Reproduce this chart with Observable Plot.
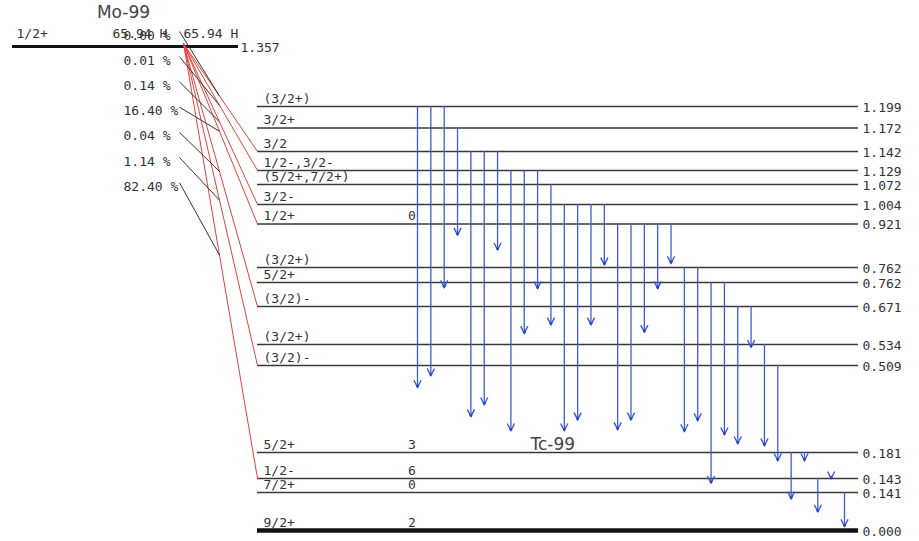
<!DOCTYPE html>
<html><head><meta charset="utf-8">
<script src="https://cdn.jsdelivr.net/npm/d3@7"></script>
<script src="https://cdn.jsdelivr.net/npm/@observablehq/plot@0.6"></script>
<style>html,body{margin:0;padding:0;background:#fff}#chart svg{display:block}</style>
</head><body><div id="chart"></div>
<script>
// ---------- DATA ----------
const parentName = "Mo-99";
const daughterName = "Tc-99";
const parentSpin = "1/2+";
const parentHalfLife = "65.94 H";
const parentE = 1.357;
const parentELabel = "1.357";

// daughter levels (MeV), top to bottom
const levelE = [1.1986, 1.1716, 1.1418, 1.1289, 1.0720, 1.0043, 0.9207, 0.7626, 0.7612, 0.6714, 0.5341, 0.5090, 0.1811, 0.1427, 0.1405, 0.0];
const levelLabel = ["1.199", "1.172", "1.142", "1.129", "1.072", "1.004", "0.921", "0.762", "0.762", "0.671", "0.534", "0.509", "0.181", "0.143", "0.141", "0.000"];
const levelSpin = ["(3/2+)", "3/2+", "3/2", "1/2-,3/2-", "(5/2+,7/2+)", "3/2-", "1/2+", "(3/2+)", "5/2+", "(3/2)-", "(3/2+)", "(3/2)-", "5/2+", "1/2-", "7/2+", "9/2+"];
const levelNote = ["", "", "", "", "", "", "0", "", "", "", "", "", "3", "6", "0", "2"];

// beta branches: fed level and intensity label
const betaLevelE = [1.1418, 1.1289, 1.0043, 0.9207, 0.6714, 0.5090, 0.1427];
const betaPct = ["0.00", "0.01", "0.14", "16.40", "0.04", "1.14", "82.40"];

// gamma arrows in drawing order: start level and (read) end of the arrow, MeV
const gammaFrom = [1.1986, 1.1986, 1.1986, 1.1716, 1.1418, 1.1418, 1.1418, 1.1289, 1.1289, 1.1289, 1.0720,
  1.0043, 1.0043, 1.0043, 1.0043, 0.9207, 0.9207, 0.9207, 0.9207, 0.9207, 0.7626, 0.7626, 0.7612, 0.7612,
  0.6714, 0.6714, 0.5341, 0.5090, 0.1811, 0.1811, 0.1427, 0.1427, 0.1405];
const gammaTo = [0.427, 0.471, 0.743, 0.881, 0.317, 0.362, 0.827, 0.264, 0.575, 0.739, 0.606,
  0.264, 0.305, 0.606, 0.773, 0.268, 0.305, 0.579, 0.739, 0.778, 0.261, 0.302, 0.1420, 0.249,
  0.215, 0.531, 0.2075, 0.1693, 0.1178, 0.1693, 0.0695, 0.1427, 0.0155];

// ---------- TABLES ----------
const levels = levelE.map((E, i) => ({E, label: levelLabel[i], spin: levelSpin[i], note: levelNote[i]}));
const betas = betaLevelE.map((E, i) => ({E, pct: betaPct[i], i}));
const gammas = gammaFrom.map((from, i) => ({i, from, to: gammaTo[i]}));

// ---------- LAYOUT (scales) ----------
// level-scheme layout: energies are spread piecewise so that close levels stay readable
const yKnots = [...levelE, parentE].sort((a, b) => a - b);
const yRows = [530, 492, 478, 452, 365, 344, 306, 282, 267, 223.5, 204, 184, 170, 151, 127.5, 106, 46];
const ys = d3.scaleLinear(yKnots, yRows);
const xDomain = [0, gammas.length - 1];
const xRange = [417, 844];
const xs = d3.scaleLinear(xDomain, xRange);
// helpers to place annotations given in screen units
const px = v => xs.invert(v);
const py = v => ys.invert(v);

const BLUE = "#3b5be0", RED = "#e2413b", INK = "#333", LINE = "#3a3a3a";
const MONO = "DejaVu Sans Mono";
const SANS = "DejaVu Sans";

// beta geometry
const ORIGIN = [183, 43];
const LEVEL_X1 = 257, LEVEL_X2 = 858;
const pctY = i => 35 + 25.2 * i;
const leaderEnd = d => {
  const yL = ys(d.E);
  const t = (219 - ORIGIN[0]) / (LEVEL_X1 - ORIGIN[0]);
  return ORIGIN[1] + t * (yL - ORIGIN[1]);
};

const chevron = {
  draw(ctx) {
    ctx.moveTo(-3.6, -7);
    ctx.lineTo(0, 0);
    ctx.lineTo(3.6, -7);
  }
};

const chart = Plot.plot({
  width: 919,
  height: 541,
  margin: 0,
  x: {domain: xDomain, range: xRange, axis: null},
  y: {transform: ys, domain: [0, 541], range: [0, 541], axis: null},
  style: {background: "#fff", fontFamily: MONO, fontSize: "13px", color: INK},
  marks: [
    // level lines
    Plot.ruleY(levels.filter(d => d.E > 0), {y: "E", x1: px(LEVEL_X1), x2: px(LEVEL_X2), stroke: LINE, strokeWidth: 1.5}),
    Plot.ruleY(levels.filter(d => d.E === 0), {y: "E", x1: px(LEVEL_X1), x2: px(LEVEL_X2), stroke: "#111", strokeWidth: 4.5}),
    // parent level
    Plot.ruleY([parentE], {y: d => d, x1: px(12), x2: px(238), stroke: "#111", strokeWidth: 3}),
    // beta feeding lines
    Plot.link(betas, {x1: px(ORIGIN[0]), y1: py(ORIGIN[1]), x2: px(LEVEL_X1), y2: "E", stroke: RED, strokeWidth: 1}),
    // leaders from intensity labels
    Plot.link(betas, {x1: px(179), y1: d => py(pctY(d.i) - 4), x2: px(219), y2: d => py(leaderEnd(d)), stroke: INK, strokeWidth: 1}),
    // gamma shafts and heads
    Plot.ruleX(gammas, {x: "i", y1: "from", y2: "to", stroke: BLUE, strokeWidth: 1.3}),
    Plot.dot(gammas, {x: "i", y: "to", symbol: chevron, fill: "none", stroke: BLUE, strokeWidth: 1.4}),
    Plot.dot(gammas, {x: "i", y: "to", r: 1.4, dy: -1, fill: "#2a44c0", stroke: "none"}),
    // level texts
    Plot.text(levels, {x: px(263), y: "E", text: "spin", textAnchor: "start", dy: -8, fontFamily: MONO, fontSize: 13, fill: INK}),
    Plot.text(levels, {x: px(411.5), y: "E", text: "note", dy: -8, fontFamily: MONO, fontSize: 13, fill: INK}),
    Plot.text(levels, {x: px(862), y: "E", text: "label", textAnchor: "start", dy: 1, fontFamily: MONO, fontSize: 13, fill: INK}),
    // parent texts
    Plot.text([parentELabel], {x: px(240), y: py(47), text: d => d, textAnchor: "start", fontFamily: MONO, fontSize: 13, fill: INK}),
    Plot.text([parentSpin], {x: px(16), y: py(33), text: d => d, textAnchor: "start", fontFamily: MONO, fontSize: 13, fill: INK}),
    Plot.text([parentHalfLife], {x: px(112), y: py(33), text: d => d, textAnchor: "start", fontFamily: MONO, fontSize: 13, fill: INK}),
    Plot.text([parentHalfLife], {x: px(183), y: py(33), text: d => d, textAnchor: "start", fontFamily: MONO, fontSize: 13, fill: INK}),
    Plot.text(betas, {x: px(123), y: d => py(pctY(d.i)), text: d => d.pct + " %", textAnchor: "start", fontFamily: MONO, fontSize: 13, fill: INK}),
    // nuclide names
    Plot.text([parentName], {x: px(123), y: py(12), text: d => d, fontFamily: SANS, fontSize: 17, fill: "#444"}),
    Plot.text([daughterName], {x: px(530), y: py(444), text: d => d, textAnchor: "start", fontFamily: SANS, fontSize: 17, fill: "#444"})
  ]
});
document.getElementById("chart").appendChild(chart);
</script>
</body></html>
